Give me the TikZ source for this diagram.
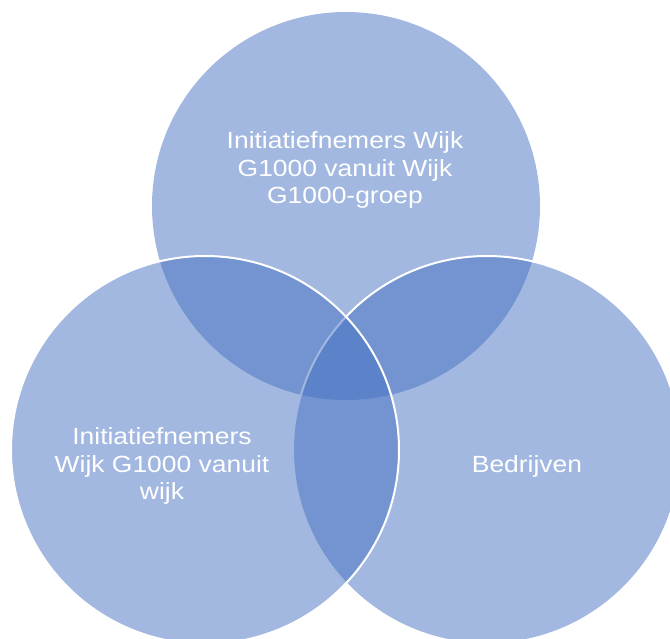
\documentclass[tikz,border=0pt]{standalone}
\usepackage{fontspec}
\newfontfamily\lblfont{Liberation Sans}[FakeStretch=1.13]
\definecolor{vennblue}{RGB}{69,113,193}
\begin{document}
\begin{tikzpicture}[x=1pt,y=-1pt,
  venn/.style={circle,minimum size=388pt,inner sep=0pt,fill=vennblue,fill opacity=0.5},
  vennline/.style={venn,draw=white,draw opacity=1,line width=2pt},
  lbl/.style={text=white,align=center,font=\lblfont\fontsize{23.4pt}{27.5pt}\selectfont}]
\useasboundingbox (0,0) rectangle (670,639);
\clip (0,0) rectangle (670,639);
\node[venn] (top) at (346,206) {};
\node[vennline] (right) at (487,450) {};
\node[vennline] (left) at (205,450) {};
\node[lbl] (ttop) at (345,170) {Initiatiefnemers Wijk\\G1000 vanuit Wijk\\G1000-groep};
\node[lbl] (tleft) at (162,466) {Initiatiefnemers\\Wijk G1000 vanuit\\wijk};
\node[lbl] (tright) at (527,466) {Bedrijven};
\end{tikzpicture}
\end{document}
